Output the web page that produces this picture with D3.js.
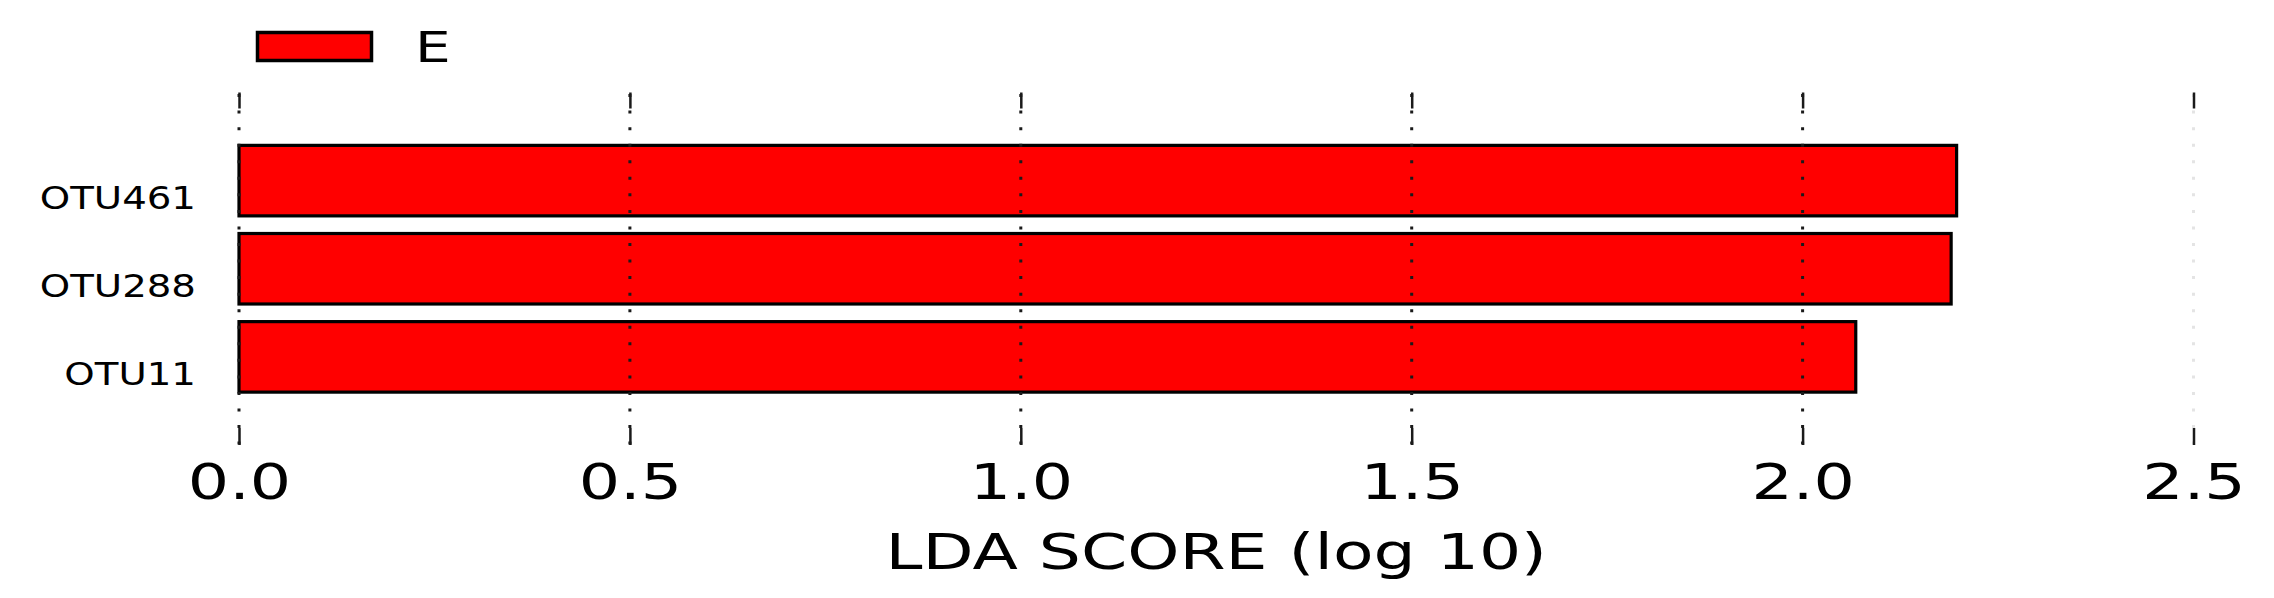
<!DOCTYPE html>
<html>
<head>
<meta charset="utf-8">
<script src="https://cdn.jsdelivr.net/npm/d3@7"></script>
<style>
  html, body { margin: 0; padding: 0; background: #fff; }
  svg { display: block; }
  text { font-family: "DejaVu Sans", sans-serif; fill: #000; }
</style>
</head>
<body>
<svg id="chart" width="2274" height="598"></svg>
<script>
// ---- data ----
const categories = ["OTU461", "OTU288", "OTU11"];
const ldaScores = [2.197, 2.190, 2.068];
const seriesName = "E";
const xTicks = [0.0, 0.5, 1.0, 1.5, 2.0, 2.5];
const xLabel = "LDA SCORE (log 10)";

// ---- layout ----
const W = 2274, H = 598;
const plotLeft = 239, plotRight = 2193.5, plotTop = 92.5, plotBottom = 445;
const SX = 1.3;    // horizontal stretch of the reference image text
const SX_Y = 1.21; // stretch for category labels
const SX_T = 1.327; // stretch for axis title

const svg = d3.select("#chart");

const x = d3.scaleLinear().domain([0, 2.5]).range([plotLeft, plotRight]);
const y = d3.scaleBand().domain(categories).range([plotTop, plotBottom])
  .paddingInner(0.2).paddingOuter(0.6);

// bars
svg.append("g").selectAll("rect").data(categories).join("rect")
  .attr("x", x(0))
  .attr("y", d => y(d))
  .attr("width", (d, i) => x(ldaScores[i]) - x(0))
  .attr("height", y.bandwidth())
  .attr("fill", "#ff0000")
  .attr("stroke", "#000")
  .attr("stroke-width", 3.2);

// dotted grid lines (on top of bars)
svg.append("g").selectAll("line").data(xTicks).join("line")
  .attr("x1", d => x(d)).attr("x2", d => x(d))
  .attr("y1", plotBottom).attr("y2", plotTop)
  .attr("stroke", d => d === 2.5 ? "#e4e4e4" : "#1a1a1a")
  .attr("stroke-width", 3)
  .attr("stroke-dasharray", "3,13.55")
  .attr("stroke-dashoffset", -0.4);

// bottom axis (ticks pointing inward)
const bottomAxis = d3.axisBottom(x).tickValues(xTicks)
  .tickFormat(d3.format(".1f")).tickSize(-17).tickPadding(19);
const gB = svg.append("g").attr("transform", `translate(0,${plotBottom})`).call(bottomAxis);
gB.select(".domain").remove();
gB.selectAll(".tick line").attr("stroke", "#1a1a1a").attr("stroke-width", 2.5);
gB.selectAll(".tick text")
  .attr("font-size", 50).attr("font-family", "DejaVu Sans")
  .attr("transform", `scale(${SX},1)`);

// top axis (ticks only)
const topAxis = d3.axisTop(x).tickValues(xTicks).tickFormat("").tickSize(-16);
const gT = svg.append("g").attr("transform", `translate(0,${plotTop})`).call(topAxis);
gT.select(".domain").remove();
gT.selectAll(".tick line").attr("stroke", "#1a1a1a").attr("stroke-width", 2.5);

// left axis labels
const leftAxis = d3.axisLeft(y).tickSize(0).tickPadding(0);
const gL = svg.append("g").attr("transform", `translate(196,0)`).call(leftAxis);
gL.select(".domain").remove();
gL.selectAll(".tick text")
  .attr("font-size", 32).attr("font-family", "DejaVu Sans")
  .attr("dy", "0").attr("y", 28.5)
  .attr("transform", `scale(${SX_Y},1)`);

// x axis title
svg.append("text")
  .attr("transform", `translate(${(plotLeft + plotRight) / 2},569) scale(${SX_T},1)`)
  .attr("text-anchor", "middle")
  .attr("font-size", 50)
  .text(xLabel);

// legend
svg.append("rect")
  .attr("x", 257.5).attr("y", 32.5).attr("width", 114).attr("height", 28)
  .attr("fill", "#ff0000").attr("stroke", "#000").attr("stroke-width", 3.5);
svg.append("text")
  .attr("transform", `translate(415,62.3) scale(${SX},1)`)
  .attr("font-size", 43.5)
  .text(seriesName);
</script>
</body>
</html>
